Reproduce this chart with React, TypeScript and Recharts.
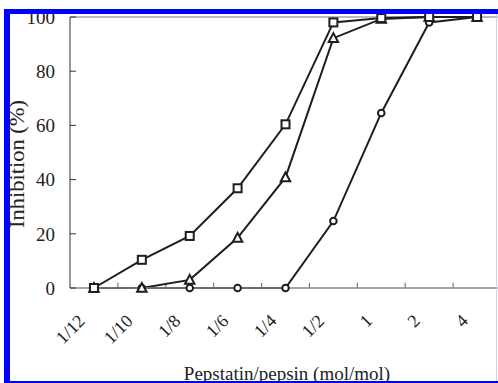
import React from 'react';
import { LineChart, Line, XAxis, YAxis, ReferenceLine } from 'recharts';

const categories = ['1/12', '1/10', '1/8', '1/6', '1/4', '1/2', '1', '2', '4'];
const squareSeries = [0, 10.4, 19.2, 36.8, 60.4, 98, 99.6, 100, 100];
const triangleSeries = [0, 0, 3, 18.5, 40.8, 92.2, 99.3, 100, 100];
const circleSeries = [0, 0, 0, 0, 0, 24.7, 64.6, 98, 100];
const yTicks = [0, 20, 40, 60, 80, 100];
const boundaryTicks = [1, 2, 3, 4, 5, 6, 7, 8];

const data = categories.map((c, i) => ({
  pos: i + 0.5,
  label: c,
  square: squareSeries[i],
  triangle: triangleSeries[i],
  circle: circleSeries[i],
}));

const FONT = '"Liberation Serif", "Times New Roman", serif';
const INK = '#1e1e1e';

const SquareDot = (p: any) => {
  if (p.cx == null || p.cy == null) return <g key={p.index} />;
  return (
    <rect key={`s${p.index}`} x={p.cx - 4} y={p.cy - 4} width={8} height={8}
      fill="#fff" stroke={INK} strokeWidth={2} />
  );
};
const TriangleDot = (p: any) => {
  if (p.cx == null || p.cy == null) return <g key={p.index} />;
  const { cx, cy } = p;
  return (
    <polygon key={`t${p.index}`} points={`${cx},${cy - 5} ${cx + 4.7},${cy + 3.8} ${cx - 4.7},${cy + 3.8}`}
      fill="#fff" stroke={INK} strokeWidth={2} strokeLinejoin="miter" />
  );
};
const CircleDot = (p: any) => {
  if (p.cx == null || p.cy == null) return <g key={p.index} />;
  return <circle key={`c${p.index}`} cx={p.cx} cy={p.cy} r={3.3} fill="#fff" stroke={INK} strokeWidth={2} />;
};

const YTick = (p: any) => {
  const { x, y, payload } = p;
  return (
    <g>
      <line x1={x + 15} x2={x + 21} y1={y} y2={y} stroke="#333" strokeWidth={1} />
      <text x={x} y={y} dy="0.36em" textAnchor="end" fontFamily={FONT} fontSize={19} fill="#222">
        {payload.value}
      </text>
    </g>
  );
};

const XTick = (p: any) => {
  const { x, y, payload } = p;
  const idx = Math.round(payload.value - 0.5);
  const tx = x - 8;
  const ty = y + 34;
  return (
    <text x={tx} y={ty} textAnchor="end" transform={`rotate(-45, ${tx}, ${ty})`}
      fontFamily={FONT} fontSize={18} fill="#222">
      {categories[idx]}
    </text>
  );
};

export default function App() {
  return (
    <div style={{ position: 'fixed', left: 0, top: 0, width: 498, height: 383, overflow: 'hidden', background: '#fff' }}>
      <LineChart width={520} height={383} data={data} margin={{ top: 17, right: 19, left: 0, bottom: 0 }}>
        <XAxis dataKey="pos" type="number" domain={[0, 9]} ticks={data.map((d) => d.pos)}
          height={95} tickSize={0} tickMargin={0} tickLine={false}
          axisLine={{ stroke: '#888', strokeWidth: 1.5 }} tick={<XTick />} interval={0} />
        <YAxis domain={[0, 100]} ticks={yTicks} width={70} tickSize={0} tickMargin={15}
          tickLine={false} axisLine={{ stroke: '#333', strokeWidth: 1 }} tick={<YTick />} interval={0} />
        <ReferenceLine y={100} stroke="#777" strokeWidth={1} />
        {boundaryTicks.map((b) => (
          <ReferenceLine key={b} segment={[{ x: b, y: 0 }, { x: b, y: 1.9 }]} stroke="#777" strokeWidth={1.2} ifOverflow="visible" />
        ))}
        <Line dataKey="circle" stroke={INK} strokeWidth={2} dot={CircleDot} isAnimationActive={false} />
        <Line dataKey="triangle" stroke={INK} strokeWidth={2} dot={TriangleDot} isAnimationActive={false} />
        <Line dataKey="square" stroke={INK} strokeWidth={2} dot={SquareDot} isAnimationActive={false} />
      </LineChart>
      <svg width={498} height={383} style={{ position: 'absolute', left: 0, top: 0, pointerEvents: 'none' }}>
        <text x={24} y={164} textAnchor="middle" transform="rotate(-90, 24, 164)"
          fontFamily={FONT} fontSize={20} fill="#222" textLength={128} lengthAdjust="spacingAndGlyphs">
          Inhibition (%)
        </text>
        <text x={287} y={380} textAnchor="middle" fontFamily={FONT} fontSize={19} fill="#222">
          Pepstatin/pepsin (mol/mol)
        </text>
      </svg>
      <div style={{ position: 'absolute', left: 4, top: 9, width: 494, height: 5, background: '#0000ff' }} />
      <div style={{ position: 'absolute', left: 4, top: 9, width: 6, height: 374, background: '#0000ff' }} />
      <div style={{ position: 'absolute', left: 4, top: 381, width: 494, height: 2, background: '#0000ff' }} />
      <div style={{ position: 'absolute', left: 496, top: 14, width: 1, height: 367, background: '#cfd0ee' }} />
    </div>
  );
}
